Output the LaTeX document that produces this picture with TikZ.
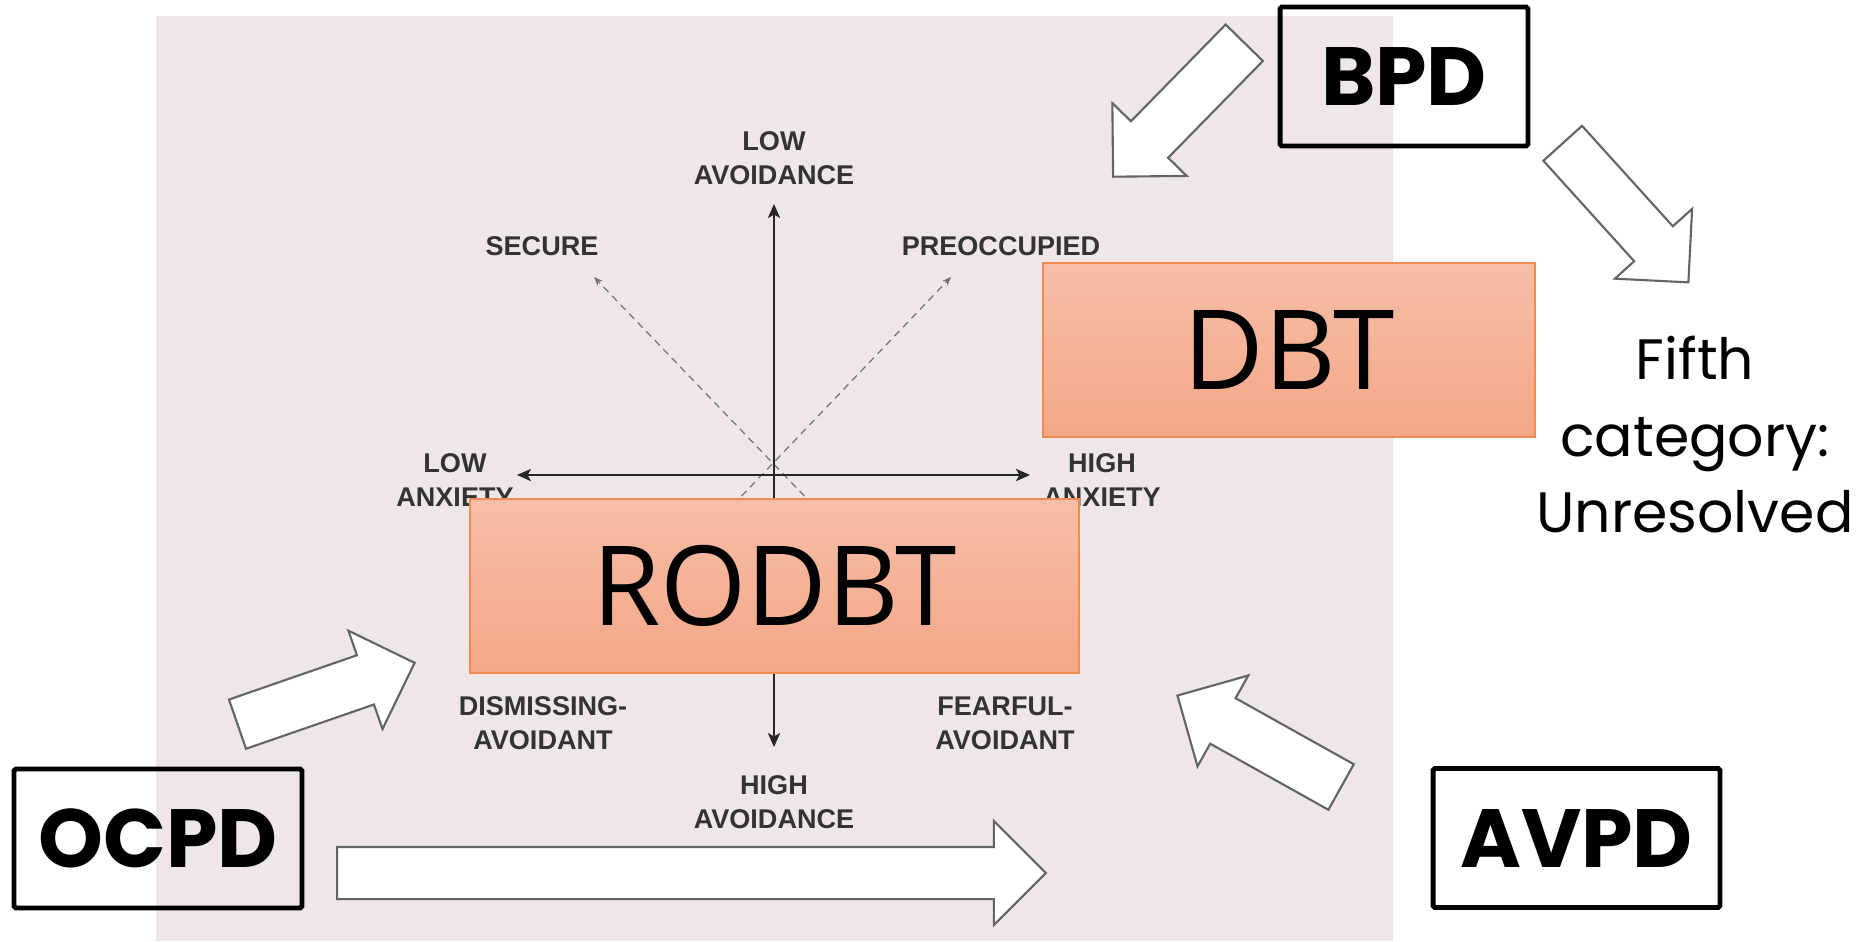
\documentclass[tikz,border=0pt]{standalone}
\usepackage{fontspec}
\usetikzlibrary{shapes.arrows, arrows.meta}
\newfontfamily\axisfont{Liberation Sans}
\newfontfamily\therapyfont{Open Sans}
\newfontfamily\tagfont{Poppins}
\definecolor{bgpink}{RGB}{238,230,231}
\definecolor{boxtop}{RGB}{246,190,168}
\definecolor{boxbottom}{RGB}{244,167,134}
\definecolor{boxline}{RGB}{240,140,80}
\definecolor{arrowline}{RGB}{100,100,100}

\begin{document}
\begin{tikzpicture}[x=0.02cm, y=-0.02cm]
	\tikzstyle{Axislabel} = [font=\axisfont\bfseries\fontsize{15.4}{19.3}\selectfont, text=black!80, align=center, inner sep=0pt]
	\tikzstyle{Therapy} = [rectangle, minimum height=3.48cm, text centered, draw=boxline, line width=0.8pt, top color=boxtop, bottom color=boxbottom, font=\therapyfont\fontsize{63}{70}\selectfont]
	\tikzstyle{Disorder} = [rectangle, minimum height=2.78cm, text centered, draw=black, line width=2.8pt, rounded corners=1pt, font=\tagfont\bfseries\fontsize{47}{50}\selectfont]
	\tikzstyle{Blockarrow} = [single arrow, draw=arrowline, fill=white, line width=1.2pt, single arrow tip angle=90, single arrow head extend=0.52cm, minimum width=2.06cm, inner xsep=0pt, inner ysep=0.5cm, anchor=tail]
	\tikzstyle{axis} = [line width=1.1pt, black!85, {Stealth[length=8pt,width=7pt,inset=2pt]}-{Stealth[length=8pt,width=7pt,inset=2pt]}]
	\tikzstyle{diag} = [line width=0.7pt, black!55, dash pattern=on 4pt off 3pt, -{Stealth[length=5pt,width=4pt]}]

	\useasboundingbox (0,0) rectangle (1875,941);
	\fill [bgpink] (156,16) rectangle (1393,941);

	% attachment axes
	\coordinate (avoidTop) at (774,204);
	\coordinate (avoidBottom) at (774,747);
	\coordinate (anxLeft) at (517,475);
	\coordinate (anxRight) at (1030,475);
	\coordinate (secureStart) at (813,505);
	\coordinate (secureEnd) at (594,277);
	\coordinate (preoccStart) at (733,505);
	\coordinate (preoccEnd) at (951,277);
	\draw [diag] (secureStart) -- (secureEnd);
	\draw [diag] (preoccStart) -- (preoccEnd);
	\draw [axis] (avoidBottom) -- (avoidTop);
	\draw [axis] (anxLeft) -- (anxRight);

	\node (lowAvoid) [Axislabel] at (774,158) {LOW\\AVOIDANCE};
	\node (secure) [Axislabel] at (542,246) {SECURE};
	\node (preocc) [Axislabel] at (1001,246) {PREOCCUPIED};
	\node (lowAnx) [Axislabel] at (455,480) {LOW\\ANXIETY};
	\node (highAnx) [Axislabel] at (1102,480) {HIGH\\ANXIETY};
	\node (dismissing) [Axislabel] at (543,723) {DISMISSING-\\AVOIDANT};
	\node (fearful) [Axislabel] at (1005,723) {FEARFUL-\\AVOIDANT};
	\node (highAvoid) [Axislabel] at (774,802) {HIGH\\AVOIDANCE};

	\node (dbt) [Therapy, minimum width=9.84cm] at (1289,350) {DBT};
	\node (rodbt) [Therapy, minimum width=12.18cm] at (774.5,586) {RODBT};

	\node (bpd) [Disorder, minimum width=4.96cm] at (1404,76.5) {BPD};
	\node (ocpd) [Disorder, minimum width=5.76cm] at (158,838.5) {OCPD};
	\node (avpd) [Disorder, minimum width=5.74cm] at (1576.5,838) {AVPD};
	\node (fifth) [font=\tagfont\fontsize{32.4}{43.8}\selectfont, align=center, inner sep=0pt] at (1695,434.5) {Fifth\\category:\\Unresolved};

	% block arrows
	\coordinate (bpdLeftTail) at (1245,42);
	\coordinate (bpdRightTail) at (1562,142.5);
	\coordinate (ocpdUpTail) at (236.5,724.5);
	\coordinate (ocpdAcrossTail) at (336,873);
	\coordinate (avpdTail) at (1342,787.5);
	\node (bpdToDbt) [Blockarrow, rotate=225.6, minimum height=3.75cm] at (bpdLeftTail) {};
	\node (bpdToFifth) [Blockarrow, rotate=-47.9, minimum height=3.75cm] at (bpdRightTail) {};
	\node (ocpdToRodbt) [Blockarrow, rotate=19.1, minimum height=3.75cm] at (ocpdUpTail) {};
	\node (avpdToRodbt) [Blockarrow, rotate=150.8, minimum height=3.75cm] at (avpdTail) {};
	\node (ocpdAcross) [Blockarrow, minimum height=14.18cm] at (ocpdAcrossTail) {};
\end{tikzpicture}
\end{document}
